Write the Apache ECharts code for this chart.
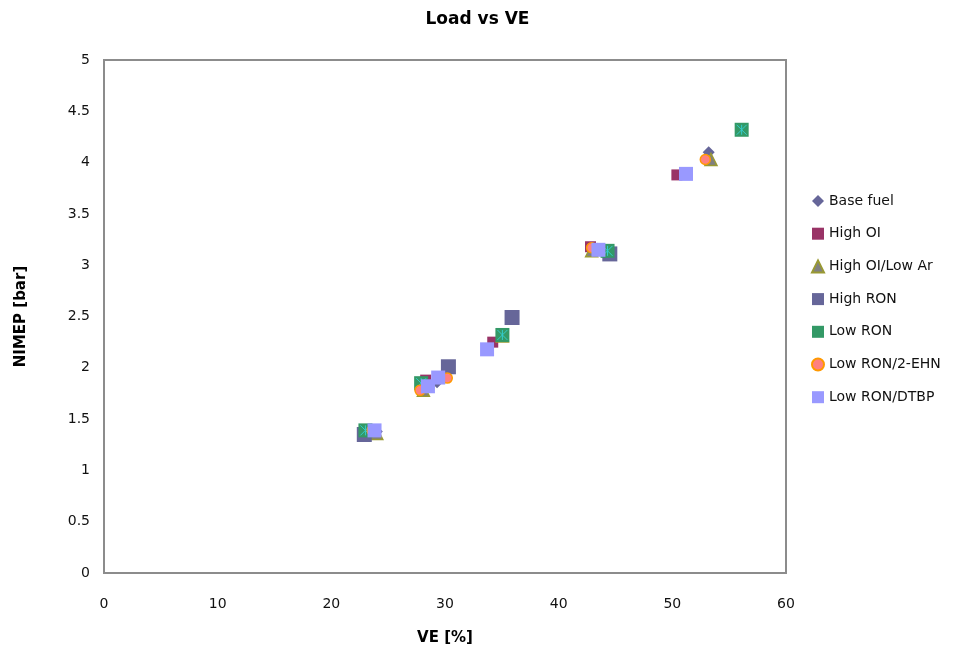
<!DOCTYPE html>
<html>
<head>
<meta charset="utf-8">
<script src="https://cdn.jsdelivr.net/npm/echarts@6/dist/echarts.min.js"></script>
<style>
  html, body { margin: 0; padding: 0; background: #fff; }
  #chart { width: 955px; height: 655px; }
</style>
</head>
<body>
<div id="chart"></div>
<script>
// Engine load (NIMEP, bar) against volumetric efficiency (VE, %) for each fuel
const baseFuel    = [[24.0, 1.38], [29.3, 1.86], [35.1, 2.33], [43.4, 3.16], [53.2, 4.10]];
const highOI      = [[23.1, 1.39], [28.3, 1.88], [34.2, 2.25], [42.8, 3.18], [50.4, 3.88]];
const highOILowAr = [[24.0, 1.36], [28.1, 1.78], [35.05, 2.31], [42.9, 3.14], [53.4, 4.03]];
const highRON     = [[22.9, 1.35], [30.3, 2.01], [35.9, 2.49], [44.5, 3.11]];
const lowRON      = [[23.0, 1.39], [27.9, 1.85], [35.05, 2.32], [44.3, 3.14], [56.1, 4.32]];
const lowRON2EHN  = [[23.6, 1.39], [27.8, 1.78], [30.2, 1.90], [42.9, 3.17], [52.9, 4.03]];
const lowRONDTBP  = [[23.8, 1.39], [28.5, 1.82], [29.4, 1.905], [33.7, 2.18], [43.5, 3.15], [51.2, 3.89]];

const seriesNames = ['Base fuel', 'High OI', 'High OI/Low Ar', 'High RON', 'Low RON', 'Low RON/2-EHN', 'Low RON/DTBP'];
const xTicks = [0, 10, 20, 30, 40, 50, 60];
const yTicks = [0, 0.5, 1, 1.5, 2, 2.5, 3, 3.5, 4, 4.5, 5];

const FONT = 'DejaVu Sans';
const chart = echarts.init(document.getElementById('chart'));

// star / cross glyph drawn on top of the Low RON squares
const crossPath = 'path://M0 0 L10 10 M10 0 L0 10 M5 0 L5 10';

chart.setOption({
  animation: false,
  backgroundColor: '#fff',
  title: {
    text: 'Load vs VE',
    left: 'center',
    top: 6,
    textStyle: { fontFamily: FONT, fontWeight: 'bold', fontSize: 17, color: '#000' }
  },
  grid: {
    left: 104, top: 60, right: 169, bottom: 82,
    show: true, borderColor: '#8c8c8c', borderWidth: 2, backgroundColor: '#fff'
  },
  legend: {
    orient: 'vertical',
    left: 806,
    top: 189,
    itemWidth: 12,
    itemHeight: 12,
    itemGap: 18.7,
    data: seriesNames,
    textStyle: { fontFamily: FONT, fontSize: 14, color: '#111', lineHeight: 12 }
  },
  xAxis: {
    type: 'value',
    min: xTicks[0], max: xTicks[xTicks.length - 1], interval: 10,
    name: 'VE [%]',
    nameLocation: 'middle',
    nameGap: 58,
    nameTextStyle: { fontFamily: FONT, fontWeight: 'bold', fontSize: 15, color: '#000' },
    axisLine: { show: true, lineStyle: { color: '#8c8c8c', width: 2 } },
    axisTick: { show: false },
    splitLine: { show: false },
    axisLabel: { fontFamily: FONT, fontSize: 14, color: '#111', margin: 24 }
  },
  yAxis: {
    type: 'value',
    min: yTicks[0], max: yTicks[yTicks.length - 1], interval: 0.5,
    name: 'NIMEP [bar]',
    nameLocation: 'middle',
    nameGap: 75,
    nameRotate: 90,
    nameTextStyle: { fontFamily: FONT, fontWeight: 'bold', fontSize: 15, color: '#000' },
    axisLine: { show: true, lineStyle: { color: '#8c8c8c', width: 2 } },
    axisTick: { show: false },
    splitLine: { show: false },
    axisLabel: { fontFamily: FONT, fontSize: 14, color: '#111', margin: 14 }
  },
  series: [
    { name: seriesNames[0], type: 'scatter', data: baseFuel, symbol: 'diamond', symbolSize: 12,
      itemStyle: { color: '#666699', opacity: 1 } },
    { name: seriesNames[1], type: 'scatter', data: highOI, symbol: 'rect', symbolSize: 11,
      itemStyle: { color: '#993366', opacity: 1 } },
    { name: seriesNames[2], type: 'scatter', data: highOILowAr, symbol: 'triangle', symbolSize: 12,
      itemStyle: { color: '#808080', borderColor: '#999933', borderWidth: 1.5, opacity: 1 } },
    { name: seriesNames[3], type: 'scatter', data: highRON, symbol: 'rect', symbolSize: 15,
      itemStyle: { color: '#666699', opacity: 1 } },
    { name: seriesNames[4], type: 'scatter', data: lowRON, symbol: 'rect', symbolSize: 14,
      itemStyle: { color: '#339966', opacity: 1 } },
    { name: seriesNames[4], type: 'scatter', data: lowRON, symbol: crossPath, symbolSize: 10,
      itemStyle: { color: 'transparent', borderColor: '#33CCCC', borderWidth: 1, opacity: 1 },
      silent: true },
    { name: seriesNames[5], type: 'scatter', data: lowRON2EHN, symbol: 'circle', symbolSize: 10,
      itemStyle: { color: '#FF8080', borderColor: '#FF9900', borderWidth: 1.5, opacity: 1 } },
    { name: seriesNames[6], type: 'scatter', data: lowRONDTBP, symbol: 'rect', symbolSize: 14,
      itemStyle: { color: '#9999FF', opacity: 1 } }
  ]
});
</script>
</body>
</html>
